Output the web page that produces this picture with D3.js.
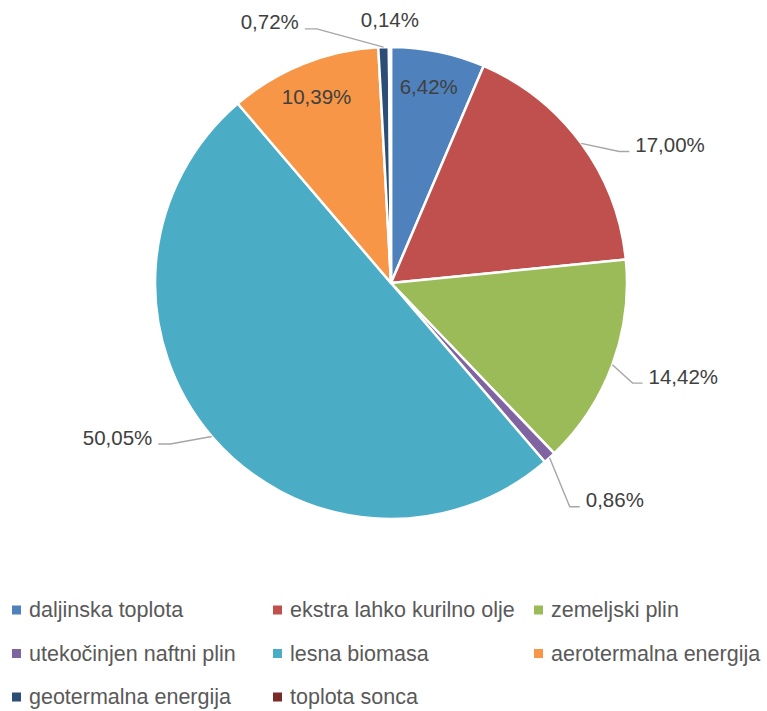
<!DOCTYPE html>
<html><head><meta charset="utf-8">
<script src="https://cdn.jsdelivr.net/npm/d3@7"></script>
<style>html,body{margin:0;padding:0;background:#fff;}</style>
</head><body>
<svg id="chart" width="767" height="711"></svg>
<script>
const categories = ["daljinska toplota","ekstra lahko kurilno olje","zemeljski plin","utekočinjen naftni plin","lesna biomasa","aerotermalna energija","geotermalna energija","toplota sonca"];
const values = [6.42, 17.00, 14.42, 0.86, 50.05, 10.39, 0.72, 0.14];
const labels = ["6,42%","17,00%","14,42%","0,86%","50,05%","10,39%","0,72%","0,14%"];
const colors = ["#4F81BD","#C0504D","#9BBB59","#8064A2","#4BACC6","#F79646","#2C4D75","#772C2A"];

// label layout (style): inside or outside, angle offset (deg), radius factor, leader
const labelLayout = [
  {inside:true, rf:0.85, da:-0.7},
  {inside:false, rf:1.32, da:9.9, leader:true},
  {inside:false, rf:1.30, da:-2.6, leader:true},
  {inside:false, rf:1.32, da:-3.7, leader:true},
  {inside:false, rf:1.33, da:11.2, leader:true},
  {inside:true, rf:0.85, da:0},
  {inside:false, rf:1.22, da:-23.1, leader:true},
  {inside:false, rf:1.115, da:0, leader:false}
];

const svg = d3.select("#chart");
const cx = 391, cy = 283, R = 236;
const g = svg.append("g").attr("transform", `translate(${cx},${cy})`);
const data = categories.map((c,i)=>({cat:c, value:values[i], label:labels[i], color:colors[i], lay:labelLayout[i]}));
const pie = d3.pie().sort(null).value(d=>d.value);
const arc = d3.arc().innerRadius(0).outerRadius(R);
const arcs = pie(data);

g.selectAll("path.slice").data(arcs).join("path")
  .attr("class","slice")
  .attr("d", arc)
  .attr("fill", d=>d.data.color)
  .attr("stroke","#fff").attr("stroke-width",2.5).attr("stroke-linejoin","round");

const polar = (a, r) => [r*Math.sin(a), -r*Math.cos(a)];
const fontFam = "'Liberation Sans', Arial, sans-serif";
const labelFont = 20.5;

arcs.forEach(d => {
  const lay = d.data.lay;
  const mid = (d.startAngle + d.endAngle)/2;
  const [lx, ly] = polar(mid + lay.da*Math.PI/180, lay.rf*R);
  const t = g.append("text")
    .attr("x", lx).attr("y", ly)
    .attr("text-anchor","middle").attr("dominant-baseline","central")
    .attr("font-family", fontFam).attr("font-size", labelFont)
    .attr("fill","#404040").text(d.data.label);
  if (lay.leader) {
    const w = t.node().getComputedTextLength();
    const [ex, ey] = polar(mid, R);
    let pts;
    if (lx > 0) {
      const left = lx - w/2;
      pts = [[ex,ey],[left-16, ly+7],[left-6, ly+7]];
    } else {
      const right = lx + w/2;
      pts = [[right+6, ly+7],[right+18, ly+7],[ex,ey]];
    }
    g.append("polyline")
      .attr("points", pts.map(p=>p.join(",")).join(" "))
      .attr("fill","none").attr("stroke","#A6A6A6").attr("stroke-width",1.4);
  }
});

// legend
const legendCols = 3, colW = 261, legendX = 12, legendY0 = 610, rowH = 43.5;
const leg = svg.append("g");
data.forEach((d,i) => {
  const col = i % legendCols, row = Math.floor(i / legendCols);
  const x = legendX + col*colW, y = legendY0 + row*rowH;
  leg.append("rect").attr("x", x).attr("y", y-4.5).attr("width",9).attr("height",9).attr("fill", d.color);
  leg.append("text").attr("x", x+17).attr("y", y)
    .attr("dominant-baseline","central")
    .attr("font-family", fontFam).attr("font-size", 21.5)
    .attr("fill","#595959").text(d.cat);
});
</script>
</body></html>
